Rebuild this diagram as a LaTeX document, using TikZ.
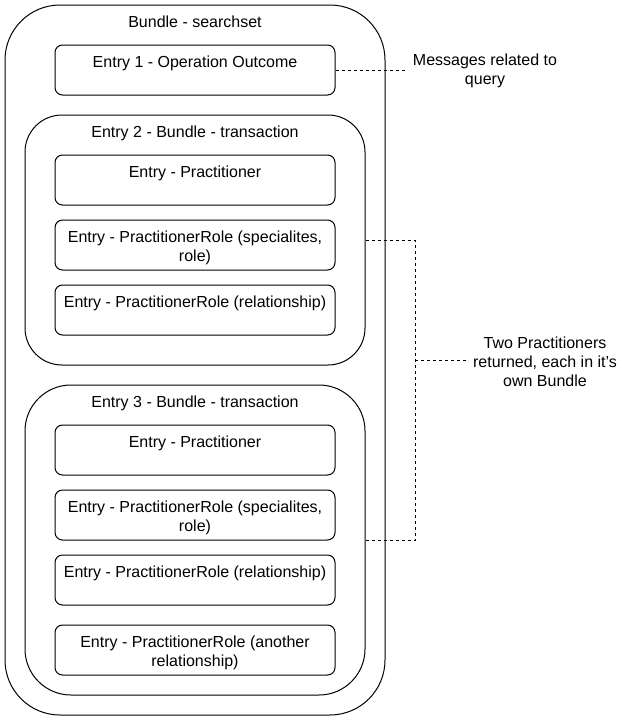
\documentclass[tikz,border=0pt]{standalone}
\usepackage{fontspec}
\setmainfont{Liberation Sans}
\begin{document}
\begin{tikzpicture}[x=1pt,y=-1pt,
  box/.style={draw=black, line width=1pt, fill=white, inner sep=0pt},
  txt/.style={anchor=base, align=center, inner sep=0pt, font=\fontsize{16}{19}\selectfont, yshift=-23pt},
  txttwo/.style={txt, yshift=-19pt},
  side/.style={align=center, inner sep=0pt, font=\fontsize{16}{19}\selectfont},
  dsh/.style={draw=black, line width=1pt, dash pattern=on 3pt off 3pt}]
\useasboundingbox (0,0) rectangle (631,721);
% outer bundle
\node[box, rounded corners=55pt, minimum width=380pt, minimum height=710pt] (outer) at (195,360) {};
\node[txt] (outerT) at (outer.north) {Bundle - searchset};
% entry 1
\node[box, rounded corners=7.5pt, minimum width=280pt, minimum height=50pt] (e1) at (195,70) {};
\node[txt] (e1T) at (e1.north) {Entry 1 - Operation Outcome};
% bundle 2
\node[box, rounded corners=37pt, minimum width=340pt, minimum height=250pt] (b2) at (195,240) {};
\node[txt] (b2T) at (b2.north) {Entry 2 - Bundle - transaction};
\node[box, rounded corners=7.5pt, minimum width=280pt, minimum height=50pt] (p2a) at (195,180) {};
\node[txt] (p2aT) at (p2a.north) {Entry - Practitioner};
\node[box, rounded corners=7.5pt, minimum width=280pt, minimum height=50pt] (p2b) at (195,245) {};
\node[txttwo] (p2bT) at (p2b.north) {Entry - PractitionerRole (specialites,\\role)};
\node[box, rounded corners=7.5pt, minimum width=280pt, minimum height=50pt] (p2c) at (195,310) {};
\node[txt] (p2cT) at (p2c.north) {Entry - PractitionerRole (relationship)};
% bundle 3
\node[box, rounded corners=46pt, minimum width=340pt, minimum height=310pt] (b3) at (195,540) {};
\node[txt] (b3T) at (b3.north) {Entry 3 - Bundle - transaction};
\node[box, rounded corners=7.5pt, minimum width=280pt, minimum height=50pt] (p3a) at (195,450) {};
\node[txt] (p3aT) at (p3a.north) {Entry - Practitioner};
\node[box, rounded corners=7.5pt, minimum width=280pt, minimum height=50pt] (p3b) at (195,515) {};
\node[txttwo] (p3bT) at (p3b.north) {Entry - PractitionerRole (specialites,\\role)};
\node[box, rounded corners=7.5pt, minimum width=280pt, minimum height=50pt] (p3c) at (195,580) {};
\node[txt] (p3cT) at (p3c.north) {Entry - PractitionerRole (relationship)};
\node[box, rounded corners=7.5pt, minimum width=280pt, minimum height=50pt] (p3d) at (195,650) {};
\node[txttwo] (p3dT) at (p3d.north) {Entry - PractitionerRole (another\\relationship)};
% side texts
\node[side] (msg) at (485,71) {Messages related to\\query};
\node[side] (two) at (545,362) {Two Practitioners\\returned, each in it{\char"27}s\\own Bundle};
\coordinate (j) at (415,360);
\draw[dsh] (e1.east) -- ([xshift=-6pt]msg.west |- e1.east);
\draw[dsh] (b2.east) -| (j);
\draw[dsh] (b3.east) -| (j);
\draw[dsh] (j) -- ([xshift=-4pt]two.west |- j);
\end{tikzpicture}
\end{document}
